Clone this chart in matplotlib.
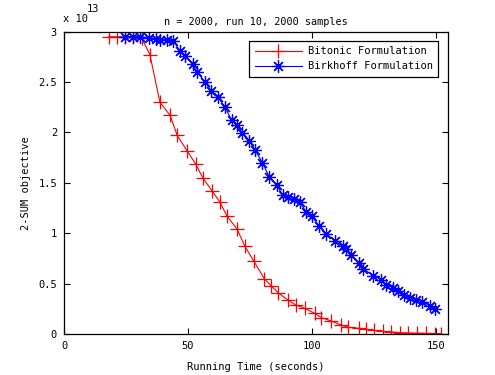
import numpy as np
import matplotlib
matplotlib.use('Agg')
import matplotlib.pyplot as plt

# Bitonic formulation: running time (s) and 2-SUM objective (x 1e13)
bitonic_time = [18, 21.3, 24.6, 28, 31.3, 34.7, 38.7, 42.8, 45.7, 49.6,
                53.1, 56, 59.8, 62.9, 65.8, 69.9, 73, 76.7, 80.8, 83.7,
                86.4, 90.4, 93.5, 97.2, 101.2, 103.9, 107.9, 111.9, 114.8, 119,
                122, 125.3, 128.8, 132.1, 135.8, 139, 142.5, 146, 149.6, 152]
bitonic_obj = [2.95, 2.95, 2.95, 2.95, 2.94, 2.77, 2.30, 2.17, 1.97, 1.82,
               1.69, 1.55, 1.42, 1.31, 1.17, 1.04, 0.87, 0.72, 0.55, 0.476,
               0.41, 0.337, 0.288, 0.255, 0.205, 0.162, 0.129, 0.089, 0.066, 0.057,
               0.047, 0.035, 0.027, 0.02, 0.013, 0.01, 0.008, 0.006, 0.005, 0.004]

# Birkhoff formulation
birkhoff_time = [24.6, 28, 30.6, 34.2, 37.3, 38.7, 41.5, 44.1, 46.8, 49,
                 51.9, 53.7, 56.9, 59.5, 62.2, 65, 67.7, 69.8, 72, 74.8,
                 77, 80.1, 82.8, 85.8, 88.3, 90.5, 93, 95.1, 97.8, 99.9,
                 103.1, 105.9, 109.5, 112.5, 114, 115.7, 119.1, 120.7, 124.7, 128.1,
                 130.1, 132.8, 134.8, 137.1, 139.5, 141.9, 144.6, 147.6, 149.6]
birkhoff_obj = [2.95, 2.95, 2.95, 2.94, 2.93, 2.92, 2.92, 2.91, 2.81, 2.76,
                2.68, 2.60, 2.50, 2.41, 2.35, 2.25, 2.12, 2.07, 1.99, 1.92,
                1.83, 1.70, 1.56, 1.48, 1.38, 1.36, 1.34, 1.31, 1.21, 1.17,
                1.07, 0.99, 0.925, 0.87, 0.84, 0.78, 0.70, 0.65, 0.58, 0.54,
                0.49, 0.46, 0.43, 0.39, 0.36, 0.34, 0.32, 0.28, 0.25]

xticks = [0, 50, 100, 150]
yticks = [0, 0.5, 1, 1.5, 2, 2.5, 3]
ytick_labels = ['0', '0.5', '1', '1.5', '2', '2.5', '3']

plt.rcParams['font.family'] = 'DejaVu Sans Mono'
plt.rcParams['font.size'] = 7.3

fig = plt.figure(figsize=(4.95, 3.75), dpi=100)
ax = fig.add_axes([0.1293, 0.1093, 0.7758, 0.8062])

ax.plot(bitonic_time, bitonic_obj, '-', color='red', marker='+',
        markersize=10, markeredgewidth=0.9, linewidth=0.8,
        label='Bitonic Formulation')
ax.plot(birkhoff_time, birkhoff_obj, '-', color='blue', marker=(8, 2, 0),
        markersize=9, markeredgewidth=0.9, linewidth=0.8,
        label='Birkhoff Formulation')

ax.set_xlim(0, 155)
ax.set_ylim(0, 3)
ax.set_xticks(xticks)
ax.set_yticks(yticks)
ax.set_yticklabels(ytick_labels)
ax.tick_params(direction='in', length=4, width=0.8, top=True, right=True,
               labelsize=7.5, pad=5)
for s in ax.spines.values():
    s.set_linewidth(0.9)

ax.set_xlabel('Running Time (seconds)', fontsize=7.5, labelpad=8)
ax.set_ylabel('2-SUM objective', fontsize=7.5, labelpad=5)
ax.set_title('n = 2000, run 10, 2000 samples', fontsize=7.3, pad=5)

fig.text(63 / 495, 1 - 22 / 375, 'x 10', fontsize=7.5, va='baseline', ha='left')
fig.text(87 / 495, 1 - 11.5 / 375, '13', fontsize=7.5, va='baseline', ha='left')

leg = ax.legend(loc='upper right', bbox_to_anchor=(0.974, 0.969),
                borderaxespad=0, numpoints=1, handlelength=4.5,
                handletextpad=0.6, fancybox=False, framealpha=1,
                edgecolor='black', fontsize=7.5, borderpad=0.5,
                labelspacing=0.5)
leg.get_frame().set_linewidth(0.9)

fig.savefig('out.png', dpi=100)
